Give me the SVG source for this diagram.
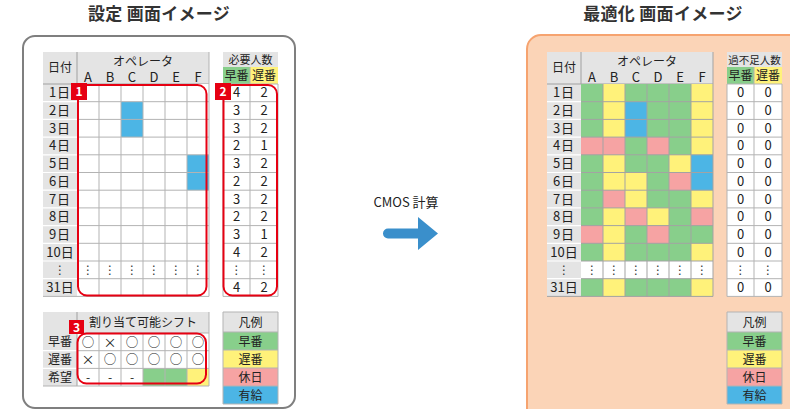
<svg xmlns="http://www.w3.org/2000/svg" width="790" height="409" viewBox="0 0 790 409">
<style>
text{font-family:"Noto Sans CJK JP","Noto Sans","DejaVu Sans",sans-serif;fill:#222;text-anchor:middle}
.ttl{font-size:17px;font-weight:bold;fill:#333;letter-spacing:0.3px}
.s10{font-size:10.5px}
.s11{font-size:11px}
.s12{font-size:12px}
.s13{font-size:13px}
.rl{font-size:13px;letter-spacing:1px}
.cir{font-size:12.5px}
.hd{fill:#e4e4e4}
.w{fill:#fff}
.g{fill:#88cf8b}
.y{fill:#fff27a}
.p{fill:#f6a3a3}
.b{fill:#4cb5e5}
.ln{fill:none;stroke:#b3b3b3;stroke-width:1}
.lnc{fill:none;stroke:#a3a3a3;stroke-width:1}
.lnw{fill:none;stroke:#fff;stroke-width:1.2}
.lnd{fill:none;stroke:#a0a0a0;stroke-width:1}
.red{fill:none;stroke:#e60012;stroke-width:2}
.lbl{fill:#e60012}
.lt{font-size:12px;font-weight:bold;fill:#fff}
.dt{font-size:12px;fill:#333}
</style>
<defs>
<g id="dateCol">
<rect class="hd" x="43" y="52" width="166" height="32"/>
<rect class="hd" x="43" y="84" width="34" height="212.4"/>
<path class="lnw" d="M43 101.7H77M43 119.4H77M43 137.1H77M43 154.8H77M43 172.5H77M43 190.2H77M43 207.9H77M43 225.6H77M43 243.3H77M43 261H77M43 278.7H77"/>
<path class="lnd" d="M77 52V84M43 84H209"/>
<text class="s12" x="60" y="72">日付</text>
<text class="s12" x="143" y="66">オペレータ</text>
<text class="s13" x="88" y="81.5">A</text><text class="s13" x="110" y="81.5">B</text><text class="s13" x="132" y="81.5">C</text><text class="s13" x="154" y="81.5">D</text><text class="s13" x="176" y="81.5">E</text><text class="s13" x="198" y="81.5">F</text>
<text class="rl" x="60" y="97.3">1日</text><text class="rl" x="60" y="115">2日</text><text class="rl" x="60" y="132.7">3日</text><text class="rl" x="60" y="150.4">4日</text><text class="rl" x="60" y="168.1">5日</text><text class="rl" x="60" y="185.8">6日</text><text class="rl" x="60" y="203.5">7日</text><text class="rl" x="60" y="221.2">8日</text><text class="rl" x="60" y="238.9">9日</text><text class="s13" x="60" y="256.6">10日</text><text class="dt" x="60" y="274.3">⋮</text><text class="s13" x="60" y="292">31日</text>
</g>
<path id="cellLines" d="M77 101.7H209M77 119.4H209M77 137.1H209M77 154.8H209M77 172.5H209M77 190.2H209M77 207.9H209M77 225.6H209M77 243.3H209M77 261H209M77 278.7H209M99 84V296.4M121 84V296.4M143 84V296.4M165 84V296.4M187 84V296.4M209 52V296.4M43 296.4H209"/>
<g id="dots">
<text class="dt" x="88" y="274.3">⋮</text><text class="dt" x="110" y="274.3">⋮</text><text class="dt" x="132" y="274.3">⋮</text><text class="dt" x="154" y="274.3">⋮</text><text class="dt" x="176" y="274.3">⋮</text><text class="dt" x="198" y="274.3">⋮</text>
</g>
<g id="sideFrame">
<rect class="g" x="223" y="67" width="27" height="17"/>
<rect class="y" x="250" y="67" width="28" height="17"/>
<rect class="w" x="223" y="84" width="55" height="212.4"/>
<path class="ln" d="M223 101.7H278M223 119.4H278M223 137.1H278M223 154.8H278M223 172.5H278M223 190.2H278M223 207.9H278M223 225.6H278M223 243.3H278M223 261H278M223 278.7H278M250 67V296.4M223 84H278M223 296.4H278M278 84V296.4M223 84V296.4"/>
<text class="s12" x="236.5" y="80">早番</text><text class="s12" x="264" y="80">遅番</text>
</g>
<g id="legend">
<rect class="hd" x="223" y="312" width="55" height="20"/>
<rect class="g" x="223" y="332" width="55" height="18"/>
<rect class="y" x="223" y="350" width="55" height="18"/>
<rect class="p" x="223" y="368" width="55" height="18"/>
<rect class="b" x="223" y="386" width="55" height="18"/>
<path class="ln" d="M223 312H278V404H223ZM223 332H278M223 350H278M223 368H278M223 386H278"/>
<text class="s12" x="250.5" y="326.5">凡例</text>
<text class="s12" x="250.5" y="345.5">早番</text>
<text class="s12" x="250.5" y="363.5">遅番</text>
<text class="s12" x="250.5" y="381.5">休日</text>
<text class="s12" x="250.5" y="399.5">有給</text>
</g>
</defs>

<text class="ttl" x="159" y="20">設定 画面イメージ</text>
<text class="ttl" x="663" y="20">最適化 画面イメージ</text>

<g id="settings-panel">
<rect x="23" y="36" width="272" height="372" rx="12" fill="#fff" stroke="#7f7f7f" stroke-width="2"/>
</g>

<g id="settings-grid">
<use href="#dateCol"/>
<rect class="w" x="77" y="84" width="132" height="212.4"/>
<rect class="b" x="121" y="101.7" width="22" height="35.4"/>
<rect class="b" x="187" y="154.8" width="22" height="35.4"/>
<use href="#cellLines" class="ln"/>
<use href="#dots"/>
</g>

<g id="required-table">
<rect class="hd" x="223" y="52" width="55" height="15"/>
<text class="s11" x="250.5" y="63.5">必要人数</text>
<use href="#sideFrame"/>
<text class="s13" x="236.5" y="97.3">4</text><text class="s13" x="264" y="97.3">2</text>
<text class="s13" x="236.5" y="115">3</text><text class="s13" x="264" y="115">2</text>
<text class="s13" x="236.5" y="132.7">3</text><text class="s13" x="264" y="132.7">2</text>
<text class="s13" x="236.5" y="150.4">2</text><text class="s13" x="264" y="150.4">1</text>
<text class="s13" x="236.5" y="168.1">3</text><text class="s13" x="264" y="168.1">2</text>
<text class="s13" x="236.5" y="185.8">2</text><text class="s13" x="264" y="185.8">2</text>
<text class="s13" x="236.5" y="203.5">3</text><text class="s13" x="264" y="203.5">2</text>
<text class="s13" x="236.5" y="221.2">2</text><text class="s13" x="264" y="221.2">2</text>
<text class="s13" x="236.5" y="238.9">3</text><text class="s13" x="264" y="238.9">1</text>
<text class="s13" x="236.5" y="256.6">4</text><text class="s13" x="264" y="256.6">2</text>
<text class="dt" x="236.5" y="274.3">⋮</text><text class="dt" x="264" y="274.3">⋮</text>
<text class="s13" x="236.5" y="292">4</text><text class="s13" x="264" y="292">2</text>
</g>

<g id="shift-table">
<rect class="hd" x="43" y="312" width="166" height="21"/>
<rect class="hd" x="43" y="333" width="34" height="53"/>
<rect class="w" x="77" y="333" width="132" height="53"/>
<rect class="g" x="143" y="368.4" width="44" height="17.6"/>
<rect class="y" x="187" y="368.4" width="22" height="17.6"/>
<path class="lnw" d="M43 350.7H77M43 368.4H77"/>
<path class="lnd" d="M77 312V386"/>
<path class="ln" d="M77 333H209M77 350.7H209M77 368.4H209M43 386H209M99 333V386M121 333V386M143 333V386M165 333V386M187 333V386M209 312V386"/>
<text class="s12" x="143" y="327">割り当て可能シフト</text>
<text class="s12" x="60" y="346">早番</text>
<text class="s12" x="60" y="364">遅番</text>
<text class="s12" x="60" y="381.5">希望</text>
<text class="cir" x="88" y="346.5">○</text><text class="s13" x="110" y="346.5">×</text><text class="cir" x="132" y="346.5">○</text><text class="cir" x="154" y="346.5">○</text><text class="cir" x="176" y="346.5">○</text><text class="cir" x="198" y="346.5">○</text>
<text class="s13" x="88" y="364.2">×</text><text class="cir" x="110" y="364.2">○</text><text class="cir" x="132" y="364.2">○</text><text class="cir" x="154" y="364.2">○</text><text class="cir" x="176" y="364.2">○</text><text class="cir" x="198" y="364.2">○</text>
<text class="s12" x="88" y="381.5">-</text><text class="s12" x="110" y="381.5">-</text><text class="s12" x="132" y="381.5">-</text>
</g>

<g id="settings-legend">
<use href="#legend"/>
</g>

<g id="markers">
<rect class="red" x="78" y="85" width="128.5" height="210.5" rx="9"/>
<rect class="lbl" x="71" y="83" width="16" height="17"/>
<text class="lt" x="79" y="96">1</text>
<rect class="red" x="223.5" y="85" width="53.5" height="210.5" rx="9"/>
<rect class="lbl" x="215" y="83" width="16" height="17"/>
<text class="lt" x="223" y="96">2</text>
<rect class="red" x="77.5" y="333.5" width="128.5" height="50" rx="9"/>
<rect class="lbl" x="69" y="320" width="15" height="14"/>
<text class="lt" x="76.5" y="331.5">3</text>
</g>

<g id="connectors">
<text class="s13" x="406" y="207" fill="#333">CMOS 計算</text>
<path d="M388 228.5H418V217L438 233.5L418 250V238.5H388A5 5 0 0 1 388 228.5Z" fill="#3a8fcb"/>
</g>

<g id="result-panel">
<rect x="527" y="35" width="300" height="400" rx="14" fill="#fbd4b7" stroke="#f6a36f" stroke-width="2"/>
</g>

<g id="result-grid" transform="translate(504 0)">
<use href="#dateCol"/>
<rect class="g" x="77" y="84" width="132" height="212.4"/>
<rect class="y" x="99" y="84" width="22" height="212.4"/>
<rect class="y" x="187" y="84" width="22" height="212.4"/>
<rect class="p" x="77" y="137.1" width="22" height="17.7"/>
<rect class="p" x="77" y="225.6" width="22" height="17.7"/>
<rect class="p" x="99" y="137.1" width="22" height="17.7"/>
<rect class="p" x="99" y="190.2" width="22" height="17.7"/>
<rect class="b" x="121" y="101.7" width="22" height="35.4"/>
<rect class="y" x="121" y="172.5" width="22" height="35.4"/>
<rect class="p" x="121" y="207.9" width="22" height="17.7"/>
<rect class="p" x="143" y="137.1" width="22" height="17.7"/>
<rect class="y" x="143" y="207.9" width="22" height="17.7"/>
<rect class="p" x="143" y="225.6" width="22" height="17.7"/>
<rect class="y" x="165" y="154.8" width="22" height="17.7"/>
<rect class="p" x="165" y="172.5" width="22" height="17.7"/>
<rect class="b" x="187" y="154.8" width="22" height="35.4"/>
<rect class="p" x="187" y="207.9" width="22" height="17.7"/>
<rect class="g" x="187" y="225.6" width="22" height="17.7"/>
<rect class="w" x="77" y="261" width="132" height="17.7"/>
<use href="#cellLines" class="lnc"/>
<use href="#dots"/>
</g>

<g id="shortage-table" transform="translate(504 0)">
<rect class="hd" x="223" y="52" width="55" height="15"/>
<text class="s10" x="250.5" y="63.5">過不足人数</text>
<use href="#sideFrame"/>
<text class="s13" x="236.5" y="97.3">0</text><text class="s13" x="264" y="97.3">0</text>
<text class="s13" x="236.5" y="115">0</text><text class="s13" x="264" y="115">0</text>
<text class="s13" x="236.5" y="132.7">0</text><text class="s13" x="264" y="132.7">0</text>
<text class="s13" x="236.5" y="150.4">0</text><text class="s13" x="264" y="150.4">0</text>
<text class="s13" x="236.5" y="168.1">0</text><text class="s13" x="264" y="168.1">0</text>
<text class="s13" x="236.5" y="185.8">0</text><text class="s13" x="264" y="185.8">0</text>
<text class="s13" x="236.5" y="203.5">0</text><text class="s13" x="264" y="203.5">0</text>
<text class="s13" x="236.5" y="221.2">0</text><text class="s13" x="264" y="221.2">0</text>
<text class="s13" x="236.5" y="238.9">0</text><text class="s13" x="264" y="238.9">0</text>
<text class="s13" x="236.5" y="256.6">0</text><text class="s13" x="264" y="256.6">0</text>
<text class="dt" x="236.5" y="274.3">⋮</text><text class="dt" x="264" y="274.3">⋮</text>
<text class="s13" x="236.5" y="292">0</text><text class="s13" x="264" y="292">0</text>
</g>

<g id="result-legend" transform="translate(504 0)">
<use href="#legend"/>
</g>
</svg>
